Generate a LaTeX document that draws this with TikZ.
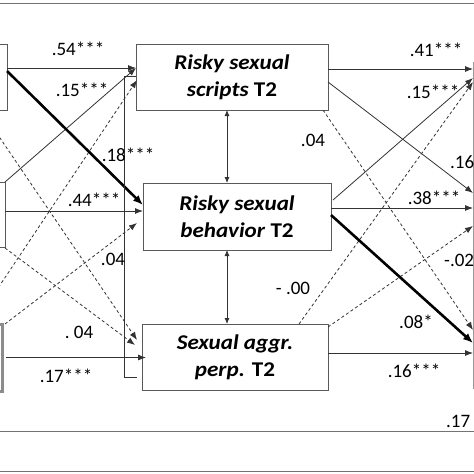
\documentclass[tikz,border=0pt]{standalone}
\usepackage{fontspec}
\setmainfont{Carlito}
\newfontfamily\boxfont{Carlito}[FakeStretch=1.1]
\usetikzlibrary{arrows.meta}

\begin{document}
\begin{tikzpicture}[
            x=1pt, y=-1pt,
            box/.style={draw=black!65, line width=1pt, minimum width=#1,
                minimum height=66pt, inner sep=0pt, outer sep=0pt, align=center,
                font=\boxfont\fontsize{21}{27}\selectfont\bfseries},
            box/.default=190pt,
            lbl/.style={inner sep=0pt, font=\fontsize{19}{22}\selectfont},
            path/.style={draw=black!80, line width=0.8pt, -{Latex[length=8pt,width=6pt]}},
            thick path/.style={path, draw=black, line width=2.6pt, -{Latex[length=10pt,width=8pt]}},
            ns path/.style={path, dashed, dash pattern=on 3pt off 2.5pt},
            corr/.style={draw=black!80, line width=0.8pt, {Latex[length=6pt,width=5pt]}-{Latex[length=6pt,width=5pt]}},
            rule/.style={draw=black!55, line width=1pt}
        ]
        \useasboundingbox (0,0) rectangle (474,474);
        \clip (0,0) rectangle (474,474);

        % frame lines
        \draw[rule] (-5,3) -- (480,3);
        \draw[rule] (-5,431) -- (480,431);
        \draw[rule] (-5,471) -- (480,471);

        % T1 boxes (cut off on the left)
        \node[box=107pt] (L1) at (-46.5,77) {};
        \node[box=105pt, minimum height=65pt] (L2) at (-47.5,214.5) {};
        \node[box=102pt, minimum height=67pt, draw=black!45, line width=3pt] (L3) at (-49,357.5) {};

        % T2 boxes
        \node[box=192pt] (M1) at (232,77) {\textit{Risky sexual}\\\textit{scripts} T2};
        \node[box=188pt, minimum height=67pt] (M2) at (237,216.5) {\textit{Risky sexual}\\\textit{behavior} T2};
        \node[box=186pt] (M3) at (235,357) {\textit{Sexual aggr.}\\\textit{perp.} T2};

        % T3 boxes (cut off on the right)
        \node[box=150pt, minimum height=78pt, draw=black!40] (R1) at (548,101) {};
        \node[box=150pt, minimum height=130pt, draw=black!40] (R2) at (548,205) {};
        \node[box=150pt, minimum height=118pt, draw=black!40] (R3) at (548,329) {};

        % T1 -> T2
        \draw[path] ([yshift=9pt]L1.east) -- ([yshift=9pt]L1.east -| M1.west);
        \draw[path] (L2.north east) -- ([yshift=9pt]M1.west);
        \draw[ns path] ([xshift=-28pt]L3.north east) -- ([xshift=1pt,yshift=-3pt]M1.west);
        \draw[path] ([yshift=3.5pt]L2.east) -- ([yshift=3.5pt]L2.east -| M2.west);
        \draw[ns path] ([xshift=3pt]L3.north east) -- ([xshift=-6pt,yshift=-6.5pt]M2.west);
        \draw[ns path] ([xshift=-26pt]L1.south east) -- ([xshift=-5pt,yshift=17pt]M3.west);
        \draw[ns path] ([yshift=-1pt]L2.south east) -- ([xshift=-7pt,yshift=12pt]M3.west);
        \draw[path] ([xshift=4pt]L3.east) -- ([xshift=4pt]L3.east -| M3.west);
        \draw[thick path] ([yshift=6pt]L1.east) -- ([yshift=11.5pt]M2.west);

        % correlations T2
        \draw[draw=black!80, line width=0.8pt] ([yshift=1pt]M1.west) -- ++(-12,0)
            |- ([xshift=-5pt,yshift=-20pt]M3.west);
        \draw[corr] ([xshift=-5pt]M1.south) -- ([xshift=-5pt]M1.south |- M2.north);
        \draw[corr] ([xshift=-10pt]M2.south) -- ([xshift=-10pt]M2.south |- M3.north);

        % T2 -> T3
        \draw[path] ([yshift=8pt]M1.east) -- ([yshift=8pt]M1.east -| R1.west);
        \draw[path] ([yshift=-5pt]M1.east) -- ([yshift=12pt]R2.west);
        \draw[ns path] ([xshift=-5pt]M1.south east) -- ([yshift=-1pt]R3.west);
        \draw[path] ([xshift=2pt,yshift=16.5pt]M2.east) -- ([yshift=23pt]R1.west);
        \draw[path] ([yshift=8.5pt]M2.east) -- ([yshift=8.5pt]M2.east -| R2.west);
        \draw[ns path] ([xshift=-29pt]M3.north east) -- ([yshift=19pt]R1.west);
        \draw[ns path] ([yshift=-3pt]M3.north east) -- ([yshift=-21pt]R2.west);
        \draw[path] ([yshift=4pt]M3.east) -- ([yshift=4pt]M3.east -| R3.west);
        \draw[thick path] ([yshift=1.5pt]M2.east) -- ([yshift=-14pt]R3.west);

        % coefficients
        \node[lbl] (b54) at (78,49) {.54***};
        \node[lbl] (b15a) at (82,90) {.15***};
        \node[lbl] (b18) at (128,155) {.18***};
        \node[lbl] (b44) at (94,200) {.44***};
        \node[lbl] (b04a) at (113,259) {.04};
        \node[lbl] (b04b) at (79,332) {.\ 04};
        \node[lbl] (b17a) at (66,376) {.17***};
        \node[lbl] (b41) at (436,50) {.41***};
        \node[lbl] (b15b) at (433,92) {.15***};
        \node[lbl] (b04c) at (313,140) {.04};
        \node[lbl, anchor=west] (b16a) at (450,162) {.16};
        \node[lbl] (b38) at (434,198) {.38***};
        \node[lbl, anchor=west] (b02) at (444,260) {-.02};
        \node[lbl] (b00) at (293,288) {-\ .00};
        \node[lbl] (b08) at (416,322) {.08*};
        \node[lbl] (b16b) at (414,371) {.16***};
        \node[lbl, anchor=west] (b17b) at (446,421) {.17};
    \end{tikzpicture}
\end{document}
